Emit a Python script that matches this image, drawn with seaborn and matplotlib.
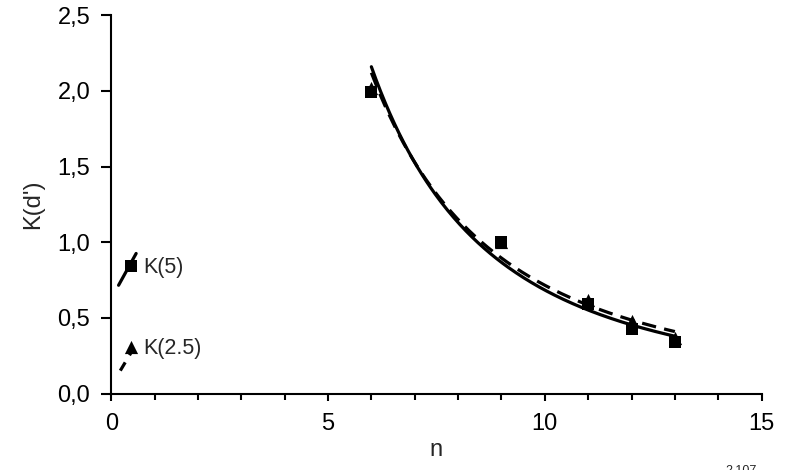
import numpy as np
import pandas as pd
import matplotlib
matplotlib.use("Agg")
import matplotlib.pyplot as plt
import seaborn as sns
from matplotlib.ticker import MultipleLocator, FixedLocator

# ---- data ----
n_sq = [6, 9, 11, 12, 13]
k_sq = [1.99, 1.00, 0.59, 0.43, 0.34]
n_tri = [6, 9, 11, 12, 13]
k_tri = [2.02, 1.00, 0.62, 0.48, 0.37]

# isolated points at n = 0.5
k5_n, k5_val = [0.46], [0.84]
k25_n, k25_val = [0.45], [0.31]

# short local segments near the isolated points
seg5_n = [0.17, 0.575]
seg5_k = [0.716, 0.926]
seg25_n = [0.21, 0.51]
seg25_k = [0.152, 0.296]

# power-law fits  K = a * n^(-b), drawn over n in [6, 13]
fit_solid = (121.7, 2.25)
fit_dashed = (95.5, 2.125)
fit_range = (6.0, 13.0)

xticks = [0, 5, 10, 15]
yticks = [0.0, 0.5, 1.0, 1.5, 2.0, 2.5]
ytick_labels = ["0,0", "0,5", "1,0", "1,5", "2,0", "2,5"]

# ---- plot ----
sns.set_theme(style="ticks")
plt.rcParams["font.family"] = ["Liberation Sans", "DejaVu Sans"]

fig = plt.figure(figsize=(8, 4.7), dpi=100)
ax = fig.add_axes([0.139, 0.1625, 0.813, 0.805])

ng = np.linspace(fit_range[0], fit_range[1], 200)
df_solid = pd.DataFrame({"n": ng, "K": fit_solid[0] * ng ** (-fit_solid[1])})
df_dash = pd.DataFrame({"n": ng, "K": fit_dashed[0] * ng ** (-fit_dashed[1])})

sns.lineplot(data=df_solid, x="n", y="K", color="black", lw=2.3, ax=ax)
sns.lineplot(data=df_dash, x="n", y="K", color="black", lw=2.3, ax=ax)
ax.lines[-1].set_dashes((4.5, 2.6))

sns.lineplot(x=seg5_n, y=seg5_k, color="black", lw=2.3, ax=ax)
sns.lineplot(x=seg25_n, y=seg25_k, color="black", lw=2.3, ax=ax)
ax.lines[-1].set_dashes((3.0, 2.6))

sns.scatterplot(x=n_sq + k5_n, y=k_sq + k5_val, marker="s", s=80,
                color="black", edgecolor="black", linewidth=0, ax=ax, zorder=3)
sns.scatterplot(x=n_tri + k25_n, y=k_tri + k25_val, marker="^", s=90,
                color="black", edgecolor="black", linewidth=0, ax=ax, zorder=3)

ax.text(0.74, 0.836, "K(5)", fontsize=15.5, va="center", ha="left")
ax.text(0.74, 0.30, "K(2.5)", fontsize=15.5, va="center", ha="left")

ax.set_xlim(0, 15)
ax.set_ylim(0, 2.5)
ax.xaxis.set_major_locator(FixedLocator(xticks))
ax.xaxis.set_minor_locator(MultipleLocator(1))
ax.set_yticks(yticks)
ax.set_yticklabels(ytick_labels)

for s in ["top", "right"]:
    ax.spines[s].set_visible(False)
for s in ["left", "bottom"]:
    ax.spines[s].set_color("black")
    ax.spines[s].set_linewidth(1.5)

ax.tick_params(axis="y", which="major", direction="out", length=7, width=1.5,
               pad=8, labelsize=17, colors="black")
ax.tick_params(axis="x", which="major", direction="out", length=5, width=1.5,
               pad=9, labelsize=17, colors="black")
ax.tick_params(axis="x", which="minor", direction="out", length=4, width=1.5,
               colors="black")

ax.set_xlabel("n", fontsize=17, labelpad=3)
ax.set_ylabel("K(d')", fontsize=17, labelpad=10)
ax.grid(False)

fig.text(0.907, -0.014, "2.107", fontsize=9, va="bottom", ha="left")

fig.savefig("out.png", dpi=100)
